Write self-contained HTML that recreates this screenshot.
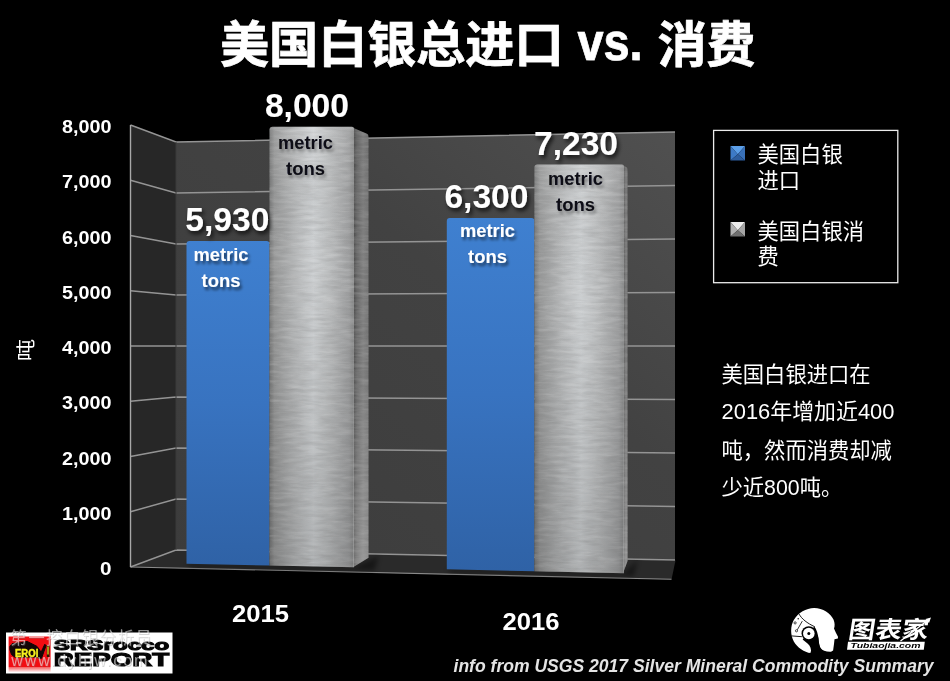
<!DOCTYPE html>
<html lang="zh"><head><meta charset="utf-8"><title>美国白银总进口 vs. 消费</title>
<style>
html,body{margin:0;padding:0;background:#000;}
body{width:950px;height:681px;overflow:hidden;position:relative;font-family:"Liberation Sans","Noto Sans CJK SC",sans-serif;}
svg{position:absolute;left:0;top:0;display:block}
svg text{font-family:"Liberation Sans","Noto Sans CJK SC",sans-serif;}
</style></head><body>
<svg width="950" height="681" viewBox="0 0 950 681">
<defs>
<linearGradient id="gBlue" x1="0" y1="0" x2="0" y2="1">
<stop offset="0" stop-color="#3f80d0"/><stop offset="0.5" stop-color="#3873c0"/><stop offset="1" stop-color="#2f62a6"/>
</linearGradient>
<linearGradient id="gSilver" x1="0" y1="0" x2="1" y2="0">
<stop offset="0" stop-color="#767777"/><stop offset="0.06" stop-color="#969797"/><stop offset="0.3" stop-color="#b6b8b9"/><stop offset="0.52" stop-color="#cdd0d2"/><stop offset="0.72" stop-color="#babcbd"/><stop offset="0.94" stop-color="#9e9fa0"/><stop offset="1" stop-color="#888989"/>
</linearGradient>
<linearGradient id="gSide" x1="0" y1="0" x2="1" y2="0">
<stop offset="0" stop-color="#444"/><stop offset="0.25" stop-color="#626262"/><stop offset="0.65" stop-color="#7a7a7a"/><stop offset="1" stop-color="#6e6e6e"/>
</linearGradient>
<linearGradient id="gVD" x1="0" y1="0" x2="0" y2="1">
<stop offset="0" stop-color="#fff" stop-opacity="0.08"/><stop offset="0.3" stop-color="#000" stop-opacity="0"/><stop offset="1" stop-color="#000" stop-opacity="0.14"/>
</linearGradient>
<linearGradient id="gVS" x1="0" y1="0" x2="0" y2="1">
<stop offset="0" stop-color="#fff" stop-opacity="0"/><stop offset="0.55" stop-color="#fff" stop-opacity="0.04"/><stop offset="1" stop-color="#fff" stop-opacity="0.2"/>
</linearGradient>
<linearGradient id="gBack" x1="0" y1="1" x2="1" y2="0">
<stop offset="0" stop-color="#3c3c3c"/><stop offset="0.6" stop-color="#424242"/><stop offset="1" stop-color="#505050"/>
</linearGradient>
<filter id="brush" x="0" y="0" width="1" height="1">
<feTurbulence type="fractalNoise" baseFrequency="0.05 0.28" numOctaves="3" seed="7" result="n"/>
<feColorMatrix in="n" type="matrix" values="0 0 0 0 1  0 0 0 0 1  0 0 0 0 1  1.6 0 0 0 -0.62" result="w"/>
<feComposite in="w" in2="SourceGraphic" operator="in"/>
</filter>
<filter id="brushD" x="0" y="0" width="1" height="1">
<feTurbulence type="fractalNoise" baseFrequency="0.05 0.28" numOctaves="3" seed="23" result="n"/>
<feColorMatrix in="n" type="matrix" values="0 0 0 0 0.25  0 0 0 0 0.25  0 0 0 0 0.25  1.6 0 0 0 -0.62" result="w"/>
<feComposite in="w" in2="SourceGraphic" operator="in"/>
</filter>
<filter id="sh" x="-20%" y="-20%" width="150%" height="160%">
<feGaussianBlur in="SourceAlpha" stdDeviation="2"/><feOffset dx="2" dy="3"/>
<feComponentTransfer><feFuncA type="linear" slope="0.75"/></feComponentTransfer>
<feMerge><feMergeNode/><feMergeNode in="SourceGraphic"/></feMerge>
</filter>
<filter id="tsh" x="-5%" y="-20%" width="110%" height="150%">
<feGaussianBlur in="SourceAlpha" stdDeviation="1.5"/><feOffset dx="2" dy="2"/>
<feComponentTransfer><feFuncA type="linear" slope="0.6"/></feComponentTransfer>
<feMerge><feMergeNode/><feMergeNode in="SourceGraphic"/></feMerge>
</filter>
<filter id="glow" x="-10%" y="-30%" width="120%" height="160%">
<feGaussianBlur in="SourceAlpha" stdDeviation="0.8" result="b"/>
<feFlood flood-color="#5a7fc0" flood-opacity="0.8"/><feComposite in2="b" operator="in"/>
<feMerge><feMergeNode/><feMergeNode in="SourceGraphic"/></feMerge>
</filter>
<filter id="sh2" x="-20%" y="-30%" width="150%" height="180%">
<feGaussianBlur in="SourceAlpha" stdDeviation="1.6"/><feOffset dx="2" dy="3"/>
<feComponentTransfer><feFuncA type="linear" slope="0.55"/></feComponentTransfer>
<feMerge><feMergeNode/><feMergeNode in="SourceGraphic"/></feMerge>
</filter>
<filter id="sh3" x="-20%" y="-30%" width="150%" height="180%">
<feGaussianBlur in="SourceAlpha" stdDeviation="1.6"/><feOffset dx="2" dy="3"/>
<feComponentTransfer><feFuncA type="linear" slope="0.35"/></feComponentTransfer>
<feMerge><feMergeNode/><feMergeNode in="SourceGraphic"/></feMerge>
</filter>
<filter id="blur2" x="-10%" y="-100%" width="120%" height="300%"><feGaussianBlur stdDeviation="2.5"/></filter>
<filter id="blur1"><feGaussianBlur stdDeviation="0.5"/></filter>
</defs>
<rect width="950" height="681" fill="#000"/>
<polygon points="130.5,125 176,142 176,550 130.5,567" fill="#272727"/>
<polygon points="176,142 675,132 675,560 176,550" fill="url(#gBack)"/>
<polygon points="130.5,567 176,550 675.5,560.5 671.5,579.6" fill="#2a2a2a"/>
<line x1="130.5" y1="567" x2="671.5" y2="579.3" stroke="#8a8a8a" stroke-width="1.1"/>
<polyline points="130.5,567 176,550 675,560" fill="none" stroke="#949494" stroke-width="1.5"/>
<polyline points="130.5,511.75 176,499 675,506.5" fill="none" stroke="#949494" stroke-width="1.5"/>
<polyline points="130.5,456.5 176,448 675,453" fill="none" stroke="#949494" stroke-width="1.5"/>
<polyline points="130.5,401.25 176,397 675,399.5" fill="none" stroke="#949494" stroke-width="1.5"/>
<polyline points="130.5,346 176,346 675,346" fill="none" stroke="#949494" stroke-width="1.5"/>
<polyline points="130.5,290.75 176,295 675,292.5" fill="none" stroke="#949494" stroke-width="1.5"/>
<polyline points="130.5,235.5 176,244 675,239" fill="none" stroke="#949494" stroke-width="1.5"/>
<polyline points="130.5,180.25 176,193 675,185.5" fill="none" stroke="#949494" stroke-width="1.5"/>
<polyline points="130.5,125 176,142 675,132" fill="none" stroke="#949494" stroke-width="1.5"/>
<line x1="130.5" y1="125" x2="130.5" y2="567" stroke="#a8a8a8" stroke-width="1.4"/>
<line x1="176" y1="142" x2="176" y2="550" stroke="#3a3a3a" stroke-width="1"/>
<polygon points="186.5,563.7 354,567.32 378.5,556 374.5,570.63 190.5,567.2" fill="#000" opacity="0.45" filter="url(#blur2)"/>
<polygon points="446.8,569.32 624,573.15 637.6,560 633.6,576.23 450.8,572.82" fill="#000" opacity="0.45" filter="url(#blur2)"/>
<path d="M186.5,563.7 L186.5,244 Q186.5,241 189.5,241 L266.5,241 Q269.5,241 269.5,244 L269.5,565.49 Z" fill="url(#gBlue)"/>
<path d="M353,127.8 L367.0,133.8 Q368.5,134.3 368.5,136.8 L368.5,557.8 L353,567.32 Z" fill="url(#gSide)"/>
<path d="M353,127.8 L367.0,133.8 Q368.5,134.3 368.5,136.8 L368.5,557.8 L353,567.32 Z" fill="#fff" filter="url(#brush)" opacity="0.18"/>
<path d="M353,127.8 L367.0,133.8 Q368.5,134.3 368.5,136.8 L368.5,557.8 L353,567.32 Z" fill="#fff" filter="url(#brushD)" opacity="0.5"/>
<path d="M269.5,565.49 L269.5,129.8 Q269.5,126.8 272.5,126.8 L352,126.8 Q354,126.8 354,128.8 L354,567.32 Z" fill="url(#gSilver)"/>
<path d="M269.5,565.49 L269.5,129.8 Q269.5,126.8 272.5,126.8 L352,126.8 Q354,126.8 354,128.8 L354,567.32 Z" fill="#fff" filter="url(#brush)" opacity="0.24"/>
<path d="M269.5,565.49 L269.5,129.8 Q269.5,126.8 272.5,126.8 L352,126.8 Q354,126.8 354,128.8 L354,567.32 Z" fill="#fff" filter="url(#brushD)" opacity="0.3"/>
<path d="M269.5,565.49 L269.5,129.8 Q269.5,126.8 272.5,126.8 L352,126.8 Q354,126.8 354,128.8 L354,567.32 Z" fill="url(#gVD)"/>
<path d="M353,127.8 L367.0,133.8 Q368.5,134.3 368.5,136.8 L368.5,557.8 L353,567.32 Z" fill="url(#gVS)"/>
<path d="M446.8,569.32 L446.8,221.1 Q446.8,218.1 449.8,218.1 L531.4,218.1 Q534.4,218.1 534.4,221.1 L534.4,571.21 Z" fill="url(#gBlue)"/>
<path d="M623,165.6 L626.1,167.1 Q627.6,167.6 627.6,170.1 L627.6,561 L623,573.15 Z" fill="url(#gSide)"/>
<path d="M623,165.6 L626.1,167.1 Q627.6,167.6 627.6,170.1 L627.6,561 L623,573.15 Z" fill="#fff" filter="url(#brush)" opacity="0.18"/>
<path d="M623,165.6 L626.1,167.1 Q627.6,167.6 627.6,170.1 L627.6,561 L623,573.15 Z" fill="#fff" filter="url(#brushD)" opacity="0.5"/>
<path d="M534.4,571.21 L534.4,167.6 Q534.4,164.6 537.4,164.6 L622,164.6 Q624,164.6 624,166.6 L624,573.15 Z" fill="url(#gSilver)"/>
<path d="M534.4,571.21 L534.4,167.6 Q534.4,164.6 537.4,164.6 L622,164.6 Q624,164.6 624,166.6 L624,573.15 Z" fill="#fff" filter="url(#brush)" opacity="0.24"/>
<path d="M534.4,571.21 L534.4,167.6 Q534.4,164.6 537.4,164.6 L622,164.6 Q624,164.6 624,166.6 L624,573.15 Z" fill="#fff" filter="url(#brushD)" opacity="0.3"/>
<path d="M534.4,571.21 L534.4,167.6 Q534.4,164.6 537.4,164.6 L622,164.6 Q624,164.6 624,166.6 L624,573.15 Z" fill="url(#gVD)"/>
<path d="M623,165.6 L626.1,167.1 Q627.6,167.6 627.6,170.1 L627.6,561 L623,573.15 Z" fill="url(#gVS)"/>
<text x="220" y="62.3" font-size="48.8" font-weight="bold" fill="#fff" text-anchor="start" textLength="343.5" lengthAdjust="spacingAndGlyphs" stroke="#fff" stroke-width="0.7" filter="url(#tsh)">美国白银总进口</text>
<text x="577.5" y="60" font-size="51" font-weight="bold" fill="#fff" text-anchor="start" textLength="65" lengthAdjust="spacingAndGlyphs" stroke="#fff" stroke-width="0.7" filter="url(#tsh)">vs.</text>
<text x="657.5" y="62.3" font-size="48.8" font-weight="bold" fill="#fff" text-anchor="start" textLength="98" lengthAdjust="spacingAndGlyphs" stroke="#fff" stroke-width="0.7" filter="url(#tsh)">消费</text>
<text x="111.5" y="575.1" font-size="17.5" font-weight="bold" fill="#fff" text-anchor="end" textLength="11.5" lengthAdjust="spacingAndGlyphs" >0</text>
<text x="62" y="519.85" font-size="17.5" font-weight="bold" fill="#fff" text-anchor="start" textLength="49.5" lengthAdjust="spacingAndGlyphs" >1,000</text>
<text x="62" y="464.6" font-size="17.5" font-weight="bold" fill="#fff" text-anchor="start" textLength="49.5" lengthAdjust="spacingAndGlyphs" >2,000</text>
<text x="62" y="409.35" font-size="17.5" font-weight="bold" fill="#fff" text-anchor="start" textLength="49.5" lengthAdjust="spacingAndGlyphs" >3,000</text>
<text x="62" y="354.1" font-size="17.5" font-weight="bold" fill="#fff" text-anchor="start" textLength="49.5" lengthAdjust="spacingAndGlyphs" >4,000</text>
<text x="62" y="298.85" font-size="17.5" font-weight="bold" fill="#fff" text-anchor="start" textLength="49.5" lengthAdjust="spacingAndGlyphs" >5,000</text>
<text x="62" y="243.6" font-size="17.5" font-weight="bold" fill="#fff" text-anchor="start" textLength="49.5" lengthAdjust="spacingAndGlyphs" >6,000</text>
<text x="62" y="188.35" font-size="17.5" font-weight="bold" fill="#fff" text-anchor="start" textLength="49.5" lengthAdjust="spacingAndGlyphs" >7,000</text>
<text x="62" y="133.1" font-size="17.5" font-weight="bold" fill="#fff" text-anchor="start" textLength="49.5" lengthAdjust="spacingAndGlyphs" >8,000</text>
<text transform="translate(32.6,350) rotate(-90) scale(1,0.87)" font-size="22.3" fill="#fff" text-anchor="middle">吨</text>
<text x="232" y="622" font-size="24.6" font-weight="bold" fill="#fff" text-anchor="start" textLength="57" lengthAdjust="spacingAndGlyphs" >2015</text>
<text x="502.5" y="629.6" font-size="24.6" font-weight="bold" fill="#fff" text-anchor="start" textLength="57" lengthAdjust="spacingAndGlyphs" >2016</text>
<text x="306.9" y="116.5" font-size="33.6" font-weight="bold" fill="#fff" text-anchor="middle" filter="url(#sh)">8,000</text>
<text x="227.3" y="230.5" font-size="33.6" font-weight="bold" fill="#fff" text-anchor="middle" filter="url(#sh)">5,930</text>
<text x="486.4" y="207.5" font-size="33.6" font-weight="bold" fill="#fff" text-anchor="middle" filter="url(#sh)">6,300</text>
<text x="576" y="154.5" font-size="33.6" font-weight="bold" fill="#fff" text-anchor="middle" filter="url(#sh)">7,230</text>
<text x="221" y="261" font-size="17.5" font-weight="bold" fill="#fff" text-anchor="middle" textLength="55" lengthAdjust="spacingAndGlyphs" filter="url(#sh2)">metric</text>
<text x="221" y="287" font-size="17.5" font-weight="bold" fill="#fff" text-anchor="middle" textLength="39" lengthAdjust="spacingAndGlyphs" filter="url(#sh2)">tons</text>
<text x="305.5" y="149" font-size="17.5" font-weight="bold" fill="#0a0a14" text-anchor="middle" textLength="55" lengthAdjust="spacingAndGlyphs" filter="url(#sh3)">metric</text>
<text x="305.5" y="175" font-size="17.5" font-weight="bold" fill="#0a0a14" text-anchor="middle" textLength="39" lengthAdjust="spacingAndGlyphs" filter="url(#sh3)">tons</text>
<text x="487.5" y="237" font-size="17.5" font-weight="bold" fill="#fff" text-anchor="middle" textLength="55" lengthAdjust="spacingAndGlyphs" filter="url(#sh2)">metric</text>
<text x="487.5" y="263" font-size="17.5" font-weight="bold" fill="#fff" text-anchor="middle" textLength="39" lengthAdjust="spacingAndGlyphs" filter="url(#sh2)">tons</text>
<text x="575.5" y="185" font-size="17.5" font-weight="bold" fill="#0a0a14" text-anchor="middle" textLength="55" lengthAdjust="spacingAndGlyphs" filter="url(#sh3)">metric</text>
<text x="575.5" y="211" font-size="17.5" font-weight="bold" fill="#0a0a14" text-anchor="middle" textLength="39" lengthAdjust="spacingAndGlyphs" filter="url(#sh3)">tons</text>
<rect x="713.6" y="130.4" width="184.2" height="152.3" fill="#000" stroke="#ececec" stroke-width="1.3"/>
<g><polygon points="730.5,146 745,146 737.75,154.2" fill="#5c9fe8"/><polygon points="730.5,146 737.75,154.2 730.5,160.5" fill="#3d7ac6"/><polygon points="745,146 737.75,154.2 745,160.5" fill="#3870b8"/><polygon points="730.5,160.5 737.75,154.2 745,160.5" fill="#2d5d9e"/></g>
<g><polygon points="730.5,222 745,222 737.75,230.2" fill="#ededed"/><polygon points="730.5,222 737.75,230.2 730.5,236.5" fill="#b2b2b2"/><polygon points="745,222 737.75,230.2 745,236.5" fill="#a4a4a4"/><polygon points="730.5,236.5 737.75,230.2 745,236.5" fill="#707070"/></g>
<text x="757.5" y="162" font-size="21.3" font-weight="normal" fill="#fff" text-anchor="start" >美国白银</text>
<text x="757.5" y="187.5" font-size="21.3" font-weight="normal" fill="#fff" text-anchor="start" >进口</text>
<text x="757.5" y="238.5" font-size="21.3" font-weight="normal" fill="#fff" text-anchor="start" >美国白银消</text>
<text x="757.5" y="264" font-size="21.3" font-weight="normal" fill="#fff" text-anchor="start" >费</text>
<text x="721.5" y="381.5" font-size="21.3" font-weight="normal" fill="#fff" text-anchor="start" >美国白银进口在</text>
<text x="721.5" y="419" font-size="21.3" font-weight="normal" fill="#fff" text-anchor="start" textLength="173" lengthAdjust="spacingAndGlyphs" >2016年增加近400</text>
<text x="721.5" y="457.5" font-size="21.3" font-weight="normal" fill="#fff" text-anchor="start" >吨，然而消费却减</text>
<text x="721.5" y="495" font-size="21.3" font-weight="normal" fill="#fff" text-anchor="start" >少近800吨。</text>
<g id="srs">
<defs><linearGradient id="gRed" x1="0" y1="0" x2="0" y2="1"><stop offset="0" stop-color="#f20d12"/><stop offset="0.84" stop-color="#f20d12"/><stop offset="0.86" stop-color="#f46a6a"/><stop offset="1" stop-color="#fff"/></linearGradient></defs>
<rect x="6" y="632.5" width="166.5" height="41" fill="#fff"/>
<rect x="8.6" y="636.5" width="42" height="36" fill="url(#gRed)"/>
<path d="M9.9,646.4 L12.3,643.5 L20.6,642.7 L27.1,641.4 L32.9,644.3 L37.0,646.4 L39.5,649.7 L41.0,652.5 L42.8,648.4 L44.8,644.3 L46.1,645.6 L44.0,651.3 L41.5,658.3 L38.7,658.3 L38.0,657.1 L14.8,657.2 L11.5,654.6 L9.9,649.7 Z" fill="#120606" stroke="#120606" stroke-width="1" stroke-linejoin="round"/>
<rect x="46.8" y="645.5" width="2.6" height="11.5" fill="#2a1a00"/><rect x="47.3" y="646.5" width="1.4" height="8" fill="#d8d020"/>
<text x="15" y="656.7" font-size="11.6" font-weight="bold" fill="#f6f01e" stroke="#f6f01e" stroke-width="0.5" textLength="23.3" lengthAdjust="spacingAndGlyphs">EROI</text>
<text x="53.8" y="649.6" font-size="15.5" font-weight="bold" fill="#050505" stroke="#050505" stroke-width="1.1" textLength="115.5" lengthAdjust="spacingAndGlyphs">SRSrocco</text>
<text x="53.8" y="666" font-size="17.5" font-weight="bold" fill="#050505" stroke="#050505" stroke-width="1.1" textLength="115.5" lengthAdjust="spacingAndGlyphs">REPORT</text>
</g>
<g font-weight="normal">
<text x="11" y="644.9" font-size="16.5" fill="#777" opacity="0.3" textLength="141.5" lengthAdjust="spacing">第一挖白银分析员</text>
<text x="10.3" y="644.2" font-size="16.5" fill="#fff" opacity="0.55" textLength="141.5" lengthAdjust="spacing">第一挖白银分析员</text>
<text x="12" y="667" font-size="16" fill="#777" opacity="0.3" textLength="136" lengthAdjust="spacing">www.dyhjw.com</text>
<text x="11.3" y="666.3" font-size="16" fill="#fff" opacity="0.55" textLength="136" lengthAdjust="spacing">www.dyhjw.com</text>
</g>
<g id="tbj">
<path d="M814.1,607.9 C822.9,607.9 830.8,613.2 833.6,619.8 C834.9,623.1 834.9,626.4 834.0,628.4 L835.9,632.8 L838.0,636.7 L837.9,638.4 L834.5,639.3 L834.0,644.1 L833.1,650.4 L831.0,651.8 C826.4,652.0 822.0,650.7 820.1,647.6 C818.9,644.1 818.7,638.8 817.8,635.2 L811.4,641.4 C811.4,645.8 811.4,649.3 810.7,653.0 C804.4,652.2 797.3,647.6 793.8,641.4 C790.3,635.2 790.3,626.4 793.8,620.1 C798.2,612.3 806.1,608.1 814.1,607.9 Z" fill="#fff"/>
<path d="M814.3,626.4 C816.7,629.5 818.0,633.5 818.5,638.8 C818.8,644.1 819.5,647.1 822.0,649.9 L824.6,652.9 L822.9,655.1 L810.1,655.1 L811.1,650.7 C810.7,646.7 808.8,644.1 805.7,642.1 L802.6,639.6 L808.8,633.5 Z" fill="#000"/>
<circle cx="808.8" cy="633.5" r="7.3" fill="#000"/><circle cx="808.8" cy="633.5" r="5.8" fill="#fff"/><circle cx="808.8" cy="633.5" r="1.5" fill="#000"/>
<path d="M799.1,614.1 C801.7,618.9 807.0,623.1 814.8,626.8" fill="none" stroke="#000" stroke-width="0.9"/>
<path d="M791.3,635.9 L801.9,636.7" fill="none" stroke="#000" stroke-width="0.9"/>
<path d="M797.3,629.8 L802.3,621.1" fill="none" stroke="#000" stroke-width="0.8"/>
<circle cx="795.1" cy="622.9" r="1.1" fill="none" stroke="#000" stroke-width="0.7"/>
<circle cx="796.5" cy="630.8" r="1.1" fill="none" stroke="#000" stroke-width="0.7"/>
<circle cx="798.2" cy="618.8" r="0.7" fill="#000"/>
<g transform="translate(847.5,637.6) skewX(-9)"><text x="0" y="0" font-size="23.6" font-weight="bold" fill="#fff" textLength="80" lengthAdjust="spacingAndGlyphs">图表家</text></g>
<polygon points="848,641.8 924.8,641.8 923.8,649.7 847,649.7" fill="#fff"/>
<text x="850.5" y="648.3" font-size="7" font-weight="bold" font-style="italic" fill="#000" textLength="70" lengthAdjust="spacingAndGlyphs">Tubiaojia.com</text>
<path d="M900.5,641 L929.5,619" fill="none" stroke="#fff" stroke-width="1.3"/><path d="M900.5,641 L912,632.3" fill="none" stroke="#000" stroke-width="0.5" transform="translate(-1,-1)"/><polygon points="931,617.5 925.5,619 929,623" fill="#fff"/>
</g>
<text x="453.5" y="672" font-size="18" font-weight="bold" fill="#e4e4e4" text-anchor="start" textLength="480" lengthAdjust="spacingAndGlyphs" font-style="italic" filter="url(#blur1)">info from USGS 2017 Silver Mineral Commodity Summary</text>
</svg>
</body></html>
